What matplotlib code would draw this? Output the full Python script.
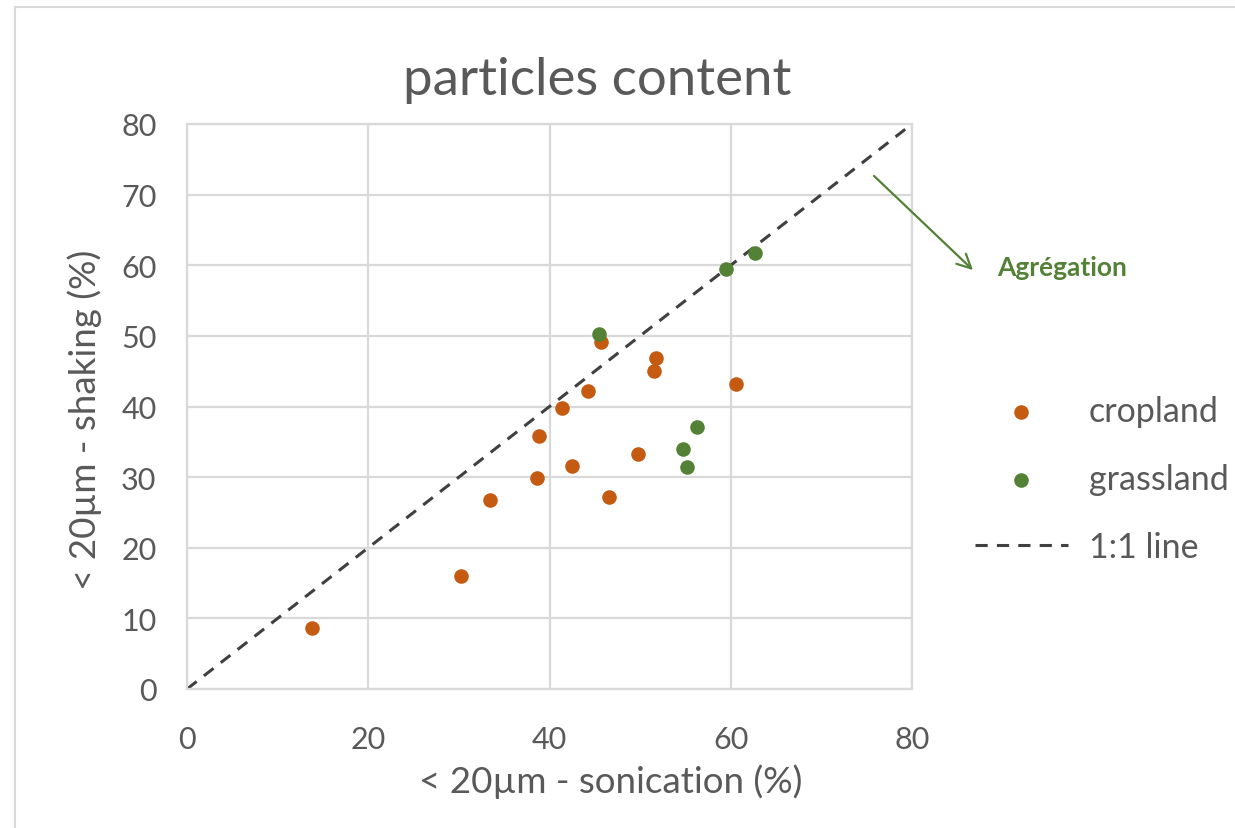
import matplotlib.pyplot as plt
from matplotlib.patches import Rectangle

# values
cropland_x = [13.8, 30.2, 33.4, 38.6, 38.8, 41.4, 42.5, 44.2, 45.7, 46.6, 49.8, 51.5, 51.7, 60.6]
cropland_y = [8.6, 16.0, 26.8, 29.9, 35.8, 39.8, 31.6, 42.2, 49.2, 27.2, 33.3, 45.0, 46.9, 43.2]
grassland_x = [45.5, 54.7, 55.2, 56.3, 59.5, 62.7]
grassland_y = [50.3, 34.0, 31.4, 37.1, 59.4, 61.7]
one_to_one = [0, 80]
ticks = [0, 10, 20, 30, 40, 50, 60, 70, 80]
xticks = [0, 20, 40, 60, 80]

orange = '#C55A11'
green = '#538135'
grid_c = '#D9D9D9'
text_c = '#595959'

plt.rcParams['font.family'] = ['Lato', 'DejaVu Sans']

W, H = 1235, 829
fig = plt.figure(figsize=(W / 100, H / 100), dpi=100)
ax = fig.add_axes([187 / W, 1 - 690 / H, (912 - 187) / W, (690 - 125) / H])

# outer chart frame (only top and left edges are visible)
fig.patches.append(Rectangle((15 / W, -0.1), 1.5, 1.1 - 8 / H, transform=fig.transFigure,
                             fill=False, edgecolor=grid_c, linewidth=1.5))

ax.scatter(cropland_x, cropland_y, s=110, color=orange, zorder=3, label='cropland', linewidths=0)
ax.scatter(grassland_x, grassland_y, s=110, color=green, zorder=3, label='grassland', linewidths=0)
ax.plot(one_to_one, one_to_one, color='#404040', linestyle=(0, (4, 3)), linewidth=2.2,
        label='1:1 line', zorder=2)

ax.set_xlim(0, 80)
ax.set_ylim(0, 80)
ax.set_xticks(xticks)
ax.set_yticks(ticks)
ax.grid(True, color=grid_c, linewidth=1.6)
ax.set_axisbelow(True)
for sp in ax.spines.values():
    sp.set_color(grid_c)
    sp.set_linewidth(1.6)
ax.tick_params(length=0, labelsize=22, colors=text_c)
ax.tick_params(axis='y', pad=22)
ax.tick_params(axis='x', pad=26)

# Excel centres titles on the chart area, not the plot area
fig.text(611 / W, 1 - 782 / H, '< 20µm - sonication (%)', fontsize=26.5, color=text_c,
         ha='center', va='center')
fig.text(85 / W, 1 - 420 / H, '< 20µm - shaking (%)', fontsize=26.5, color=text_c,
         ha='center', va='center', rotation=90)
fig.text(597 / W, 1 - 80 / H, 'particles content', fontsize=38, color=text_c,
         ha='center', va='center')

fig.legend(loc='center left', bbox_to_anchor=(944 / W, 1 - 480 / H), frameon=False,
           fontsize=24.5, labelcolor=text_c, handlelength=2.75, handletextpad=0.6,
           labelspacing=1.05, markerscale=1.0)

# annotation arrow pointing away from the 1:1 line
ax.annotate('', xy=(975 / W, 1 - 273 / H), xytext=(872 / W, 1 - 175 / H),
            xycoords='figure fraction', textcoords='figure fraction',
            arrowprops=dict(arrowstyle='->', color=green, lw=1.6, mutation_scale=25))
fig.text(997 / W, 1 - 268 / H, 'Agrégation', color=green, fontsize=19, fontweight='bold',
         va='center', ha='left')

fig.savefig('out.png', dpi=100)
